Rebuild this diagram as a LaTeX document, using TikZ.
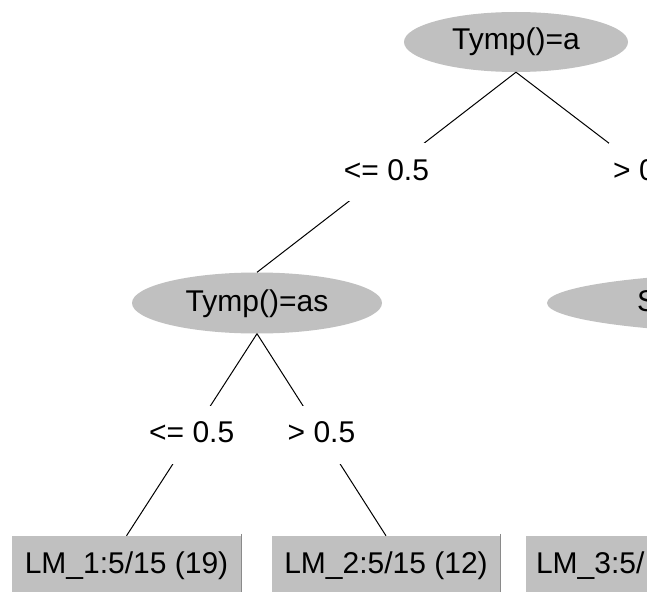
\documentclass[tikz,border=0pt]{standalone}
\usepackage{fontspec}
\setmainfont{Liberation Sans}
\usetikzlibrary{shapes.geometric}
\definecolor{nodegray}{HTML}{C0C0C0}
\definecolor{edgegray}{HTML}{8A8A8A}
\tikzset{
  txt/.style={font=\fontsize{30}{36}\selectfont, text height=22pt, text depth=6pt},
  oval/.style={txt, ellipse, fill=nodegray, draw=none, inner sep=0pt},
  leafbox/.style={txt, rectangle, fill=nodegray, draw=none, inner xsep=10pt, inner ysep=0pt,
     minimum width=229pt, minimum height=58pt},
  lbl/.style={txt, fill=white, inner xsep=4pt, inner ysep=15pt},
  conn/.style={draw=black, line width=1pt},
  shade/.style={draw=edgegray, line width=1.2pt}
}
\begin{document}
\begin{tikzpicture}[x=1pt, y=-1pt]
\useasboundingbox (0,0) rectangle (647,591);
\clip (0,0) rectangle (647,591);
\fill[white] (0,0) rectangle (647,591);

\node[oval, minimum width=224pt, minimum height=60pt] (e1) at (516,42) {Tymp()=a};
\node[oval, minimum width=250pt, minimum height=61pt] (e2) at (257,303) {Tymp()=as};
\node[oval, minimum width=462pt, minimum height=61pt] (e3) at (778,303) {};
\node[txt, anchor=west, inner sep=0pt] (e3t) at (637,303) {S};

\node[leafbox] (b1) at (126.5,565) {LM\_1:5/15 (19)};
\node[leafbox] (b2) at (386,565) {LM\_2:5/15 (12)};
\node[leafbox, text width=209pt, align=left] (b3) at (640.5,565) {LM\_3:5/};

\draw[shade] ([yshift=2pt]b1.north east) -- (b1.south east);
\draw[shade] ([yshift=2pt]b2.north east) -- (b2.south east);

\draw[conn] (e1.south) -- node[lbl] (l1) {<= 0.5} (e2.north);
\draw[conn] (e1.south) -- node[lbl] (l2) {> 0.5} (e3.north);
\draw[conn] (e2.south) -- node[lbl] (l3) {<= 0.5} (b1.north);
\draw[conn] (e2.south) -- node[lbl] (l4) {> 0.5} (b2.north);
\end{tikzpicture}
\end{document}
